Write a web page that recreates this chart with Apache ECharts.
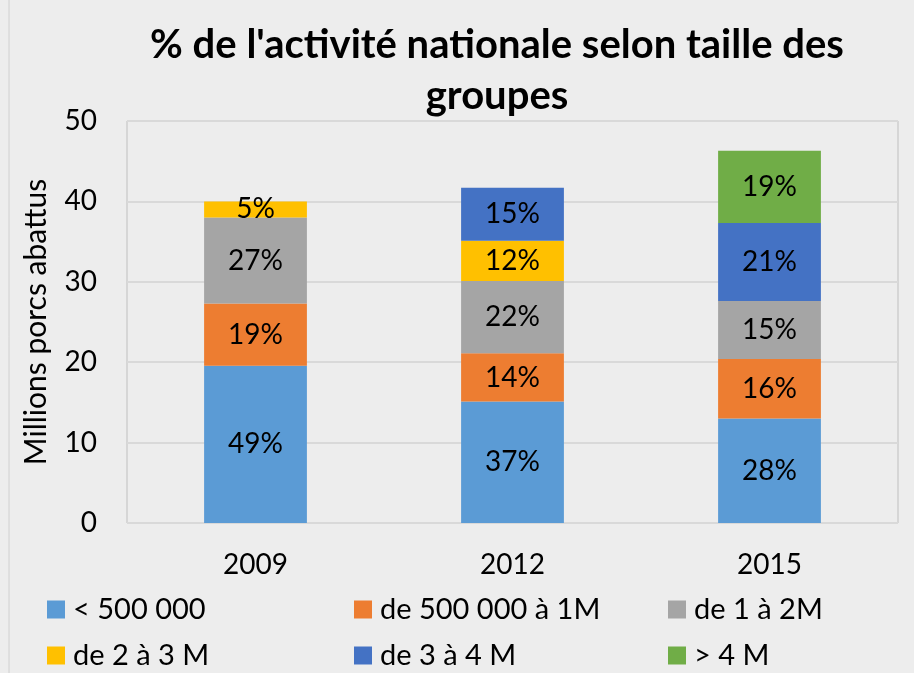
<!DOCTYPE html>
<html><head><meta charset="utf-8">
<script src="https://cdn.jsdelivr.net/npm/echarts@6/dist/echarts.min.js"></script>
<style>html,body{margin:0;padding:0;background:#ededed}#c{width:914px;height:673px}</style>
</head><body><div id="c"></div>
<script>
const years = ['2009','2012','2015'];
const seriesNames = ['< 500 000','de 500 000 à 1M','de 1 à 2M','de 2 à 3 M','de 3 à 4 M','> 4 M'];
const s1 = [19.55, 15.1, 13.0];
const s2 = [7.75, 6.0, 7.4];
const s3 = [10.7, 9.0, 7.2];
const s4 = [2.0, 5.0, null];
const s5 = [null, 6.6, 9.7];
const s6 = [null, null, 9.0];
const p1 = ['49%','37%','28%'];
const p2 = ['19%','14%','16%'];
const p3 = ['27%','22%','15%'];
const p4 = ['5%','12%',''];
const p5 = ['','15%','21%'];
const p6 = ['','','19%'];
const yTicks = [0,10,20,30,40,50];

const colors = ['#5B9BD5','#ED7D31','#A5A5A5','#FFC000','#4472C4','#70AD47'];
const values = [s1,s2,s3,s4,s5,s6];
const pcts = [p1,p2,p3,p4,p5,p6];
const FONT = 'Lato, "Open Sans", sans-serif';

const legendPos = [[47,595],[354,595],[668,595],[47,641],[354,641],[668,641]];

const chart = echarts.init(document.getElementById('c'));
chart.setOption({
  backgroundColor: '#ededed',
  animation: false,
  textStyle: {fontFamily: FONT},
  title: {
    text: "% de l'activité nationale selon taille des\ngroupes",
    left: 492, top: 15, textAlign: 'center',
    textStyle: {fontFamily: FONT, fontWeight: 'bold', fontSize: 40, color: '#000', lineHeight: 51}
  },
  legend: seriesNames.map((n, i) => ({
    data: [n], left: legendPos[i][0], top: legendPos[i][1], padding: 0,
    itemWidth: 18, itemHeight: 18, itemGap: 0, icon: 'rect',
    textStyle: {fontFamily: FONT, fontSize: 29, color: '#000', padding: [0,0,0,3]},
    selectedMode: false
  })),
  grid: {left: 127, right: 16, top: 121, bottom: 150, show: true, borderColor: '#bfbfbf', borderWidth: 1},
  xAxis: {
    type: 'category', data: years,
    axisLine: {show: false}, axisTick: {show: false},
    axisLabel: {fontFamily: FONT, fontSize: 28, color: '#000', margin: 28}
  },
  yAxis: {
    type: 'value', min: yTicks[0], max: yTicks[yTicks.length-1], interval: 10,
    name: 'Millions porcs abattus', nameLocation: 'middle', nameGap: 76,
    nameTextStyle: {fontFamily: FONT, fontSize: 30, color: '#000'},
    axisLine: {show: false}, axisTick: {show: false},
    axisLabel: {fontFamily: FONT, fontSize: 28, color: '#000', margin: 30},
    splitLine: {lineStyle: {color: '#d9d9d9', width: 2}}
  },
  series: seriesNames.map((n, i) => ({
    name: n, type: 'bar', stack: 'total', barWidth: '40%',
    data: values[i],
    itemStyle: {color: colors[i]},
    label: {show: true, position: 'inside', fontFamily: FONT, fontSize: 28, color: '#000',
      formatter: p => pcts[i][p.dataIndex]}
  })),
  graphic: [{type: 'line', shape: {x1: 9, y1: 0, x2: 9, y2: 673}, style: {stroke: '#d0d0d0', lineWidth: 1}}]
});
</script></body></html>
